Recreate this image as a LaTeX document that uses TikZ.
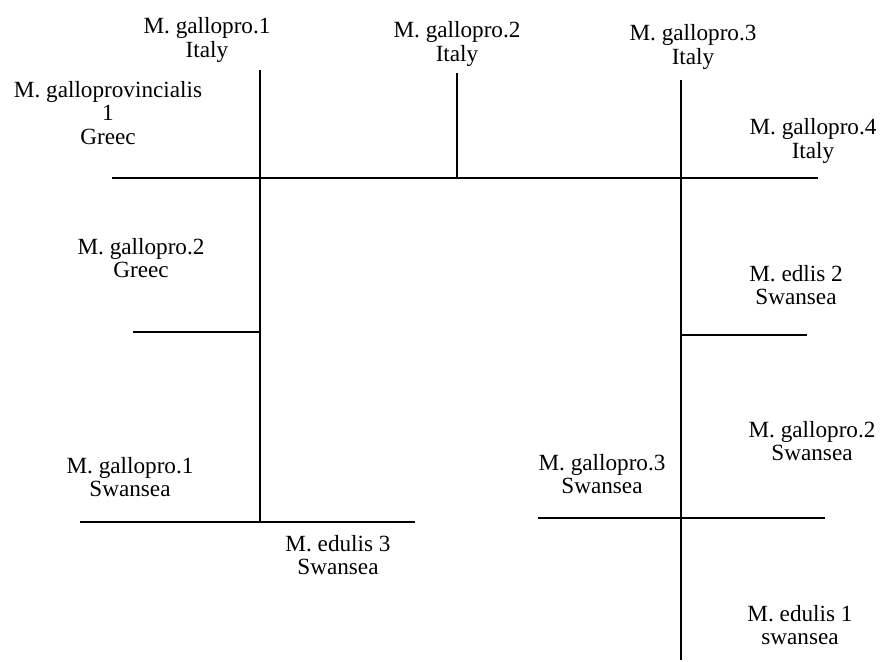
\documentclass[tikz,border=0pt]{standalone}
\usepackage{fontspec}
\setmainfont{Liberation Serif}
\begin{document}
\begin{tikzpicture}[x=1pt,y=-1pt,
  branch/.style={line width=2.8pt, line cap=butt},
  taxon/.style={align=center, inner sep=0pt, font=\fontsize{23.2}{23.5}\selectfont}]
\useasboundingbox (0,0) rectangle (882,661);

% junctions and free ends of the branches
\coordinate (topL) at (112,178);
\coordinate (topR) at (818,178);
\coordinate (vL0) at (260,70);
\coordinate (vL1) at (260,178);
\coordinate (vL2) at (260,332);
\coordinate (vL3) at (260,522);
\coordinate (v2a) at (457,73);
\coordinate (v2b) at (457,178);
\coordinate (vR0) at (681,80);
\coordinate (vR1) at (681,178);
\coordinate (vR2) at (681,335);
\coordinate (vR3) at (681,518);
\coordinate (vR4) at (681,660);
\coordinate (gGr) at (133,332);
\coordinate (bL) at (80,522);
\coordinate (bR) at (415,522);
\coordinate (eS) at (807,335);
\coordinate (sL) at (538,518);
\coordinate (sR) at (825,518);

% tree
\draw[branch] (topL) -- (topR);
\draw[branch] (vL0) -- (vL3);
\draw[branch] (v2a) -- (v2b);
\draw[branch] (vR0) -- (vR4);
\draw[branch] (gGr) -- (vL2);
\draw[branch] (bL) -- (bR);
\draw[branch] (vR2) -- (eS);
\draw[branch] (sL) -- (sR);

% labels
\node[taxon] (gi1) at (207,40) {M. gallopro.1\\Italy};
\node[taxon] (gpg) at (108,113) {M. galloprovincialis\\1\\Greec};
\node[taxon] (gi2) at (457,44) {M. gallopro.2\\Italy};
\node[taxon] (gi3) at (693,47) {M. gallopro.3\\Italy};
\node[taxon] (gi4) at (813,141) {M. gallopro.4\\Italy};
\node[taxon] (gg2) at (141,258) {M. gallopro.2\\Greec};
\node[taxon] (es2) at (796,285) {M. edlis 2\\Swansea};
\node[taxon] (gs2) at (812,441) {M. gallopro.2\\Swansea};
\node[taxon] (gs3) at (602,474) {M. gallopro.3\\Swansea};
\node[taxon] (gs1) at (130,477) {M. gallopro.1\\Swansea};
\node[taxon] (es3) at (338,555) {M. edulis 3\\Swansea};
\node[taxon] (es1) at (800,625) {M. edulis 1\\swansea};
\end{tikzpicture}
\end{document}
